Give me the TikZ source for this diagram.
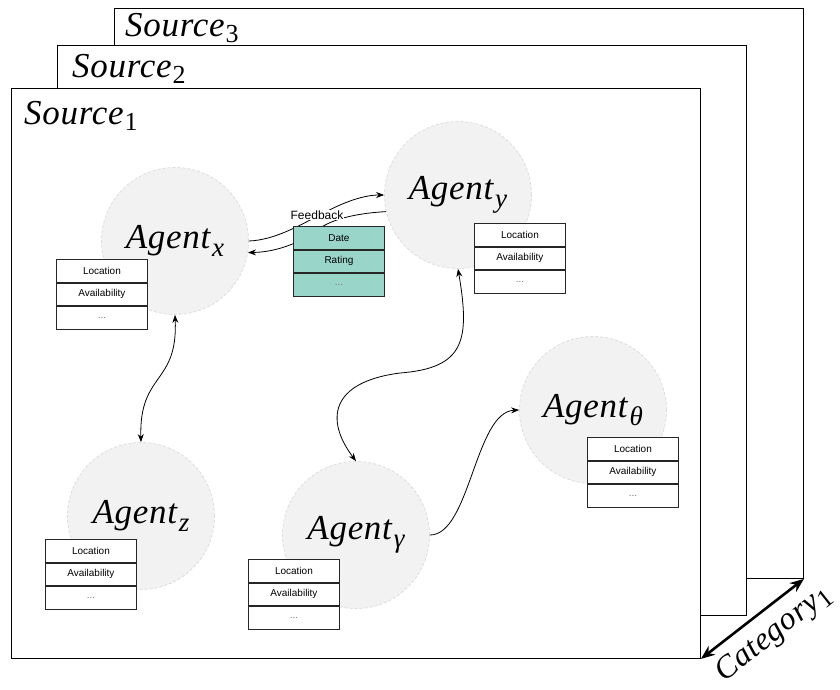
\documentclass[tikz,border=0pt]{standalone}
\usepackage{fontspec}
\setmainfont{Liberation Serif}
\newfontfamily\labelsans{Liberation Sans}
\newfontfamily\titleserif[LetterSpace=2]{Liberation Serif}
\usetikzlibrary{arrows.meta}

\definecolor{agentfill}{HTML}{F2F2F2}
\definecolor{agentline}{HTML}{DDDDDD}
\definecolor{feedfill}{HTML}{9AD5C9}

% italic letter subscript: smaller and lowered
\newcommand\lowidx[1]{\kern2pt\raisebox{-8pt}{\fontsize{27}{27}\selectfont #1}}
% upright digit subscript
\newcommand\lownum[1]{\kern1pt\raisebox{-6pt}{\fontsize{26}{26}\selectfont\upshape #1}}
\newcommand\bigital{\titleserif\fontsize{35}{38}\selectfont\itshape}
\newcommand\axisital{\titleserif\fontsize{32}{35}\selectfont\itshape}

% three-row attribute table: name, x, y, fill, row 1, row 2
\newcommand\attrbox[6]{%
  \node[attr, fill=#4, anchor=north west] (#1-1) at (#2,#3) {#5};
  \node[attr, fill=#4, anchor=north] (#1-2) at (#1-1.south) {#6};
  \node[attr, fill=#4, anchor=north, text=black!55] (#1-3) at (#1-2.south) {...};
}

\begin{document}
\begin{tikzpicture}[x=1pt,y=-1pt,
  frame/.style={draw=black, line width=0.9pt, fill=white, minimum width=689pt,
    minimum height=570pt, anchor=north west, inner sep=0},
  title/.style={font=\bigital, anchor=base west, inner sep=0},
  agent/.style={circle, fill=agentfill, draw=agentline, dash pattern=on 3pt off 2pt,
    line width=0.8pt, minimum size=147pt, inner sep=0, font=\bigital},
  attr/.style={draw=black!85, line width=0.9pt, minimum width=91pt,
    minimum height=22.67pt, inner sep=0, font=\labelsans\fontsize{10}{12}\selectfont},
  link/.style={line width=0.8pt, -{Stealth[length=8pt,width=6pt]}},
  dlink/.style={line width=0.8pt, {Stealth[length=8pt,width=6pt]}-{Stealth[length=8pt,width=6pt]}},
]
\useasboundingbox (0,0) rectangle (840,689);

% stacked source frames
\node[frame] (s3) at (114,8) {};
\node[title] (s3t) at (125,36) {Source\lownum{3}};
\node[frame] (s2) at (57,45) {};
\node[title] (s2t) at (72,77) {Source\lownum{2}};
\node[frame] (s1) at (11,88) {};
\node[title] (s1t) at (24,124) {Source\lownum{1}};

% category axis
\draw[line width=2.6pt, {Stealth[length=14pt,width=11pt]}-{Stealth[length=14pt,width=11pt]}]
  (s1.south east) -- (s3.south east);
\node[font=\axisital, rotate=38.3, inner sep=0] (cat) at (774,634) {Category\lownum{1}};

% agents
\node[agent] (agx) at (175,241) {Agent\lowidx{x}};
\node[agent] (agy) at (458,195) {Agent\lowidx{y}};
\node[agent] (agz) at (141,516) {Agent\lowidx{z}};
\node[agent] (agg) at (356,535) {Agent\lowidx{γ}};
\node[agent] (agt) at (593,410) {Agent\lowidx{θ}};

% interactions
\draw[link] (agx.east) .. controls (275,240) and (300,225) .. (320,215)
  .. controls (345,201) and (365,195) .. (agy.west);
\draw[link] (agy.193) .. controls (360,213) and (335,218) .. (320,228)
  .. controls (305,240) and (280,252) .. (agx.351);
\draw[dlink] (agx.south) .. controls (178,385) and (139,372) .. (agz.north);
\draw[dlink] (agy.south) .. controls (470,340) and (465,368) .. (400,373)
  .. controls (330,382) and (325,420) .. (agg.north);
\draw[link] (agg.east) .. controls (470,535) and (475,412) .. (agt.west);

% attribute tables
\attrbox{tx}{56}{259}{white}{Location}{Availability}
\attrbox{ty}{474}{223}{white}{Location}{Availability}
\attrbox{tt}{587}{437}{white}{Location}{Availability}
\attrbox{tz}{45}{539}{white}{Location}{Availability}
\attrbox{tg}{248}{559}{white}{Location}{Availability}
\attrbox{tf}{293}{226}{feedfill}{Date}{Rating}
\node[fill=white, inner sep=0.5pt, font=\labelsans\fontsize{12}{14}\selectfont] (fb) at (317,215) {Feedback};
\end{tikzpicture}
\end{document}
